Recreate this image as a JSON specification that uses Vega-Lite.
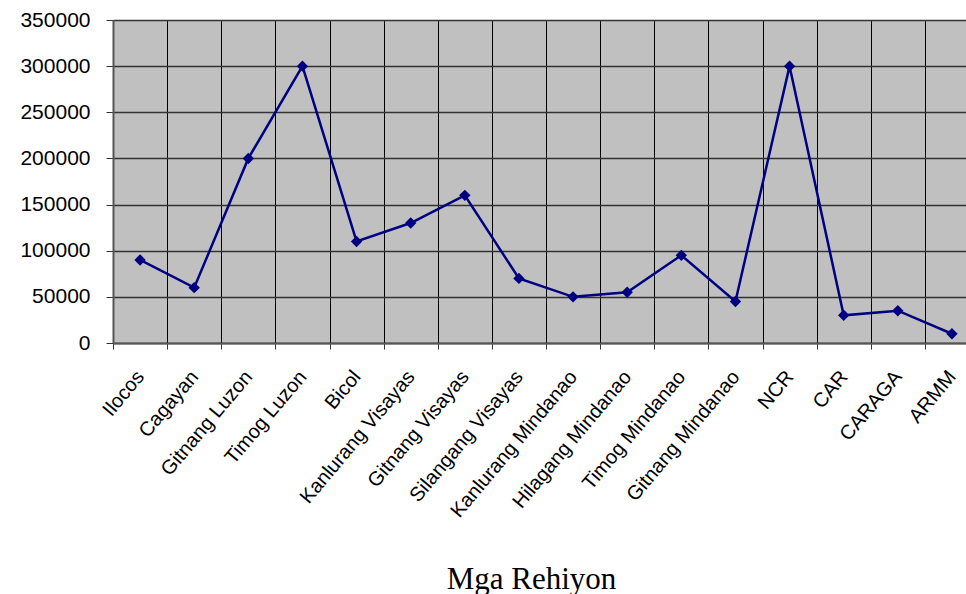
{
  "$schema": "https://vega.github.io/schema/vega-lite/v6.json",
  "width": 853,
  "height": 323,
  "autosize": {"type": "none"},
  "padding": {"left": 113, "top": 20, "right": 0, "bottom": 251},
  "background": "white",
  "config": {
    "view": {"fill": "#C0C0C0", "stroke": null},
    "font": "Liberation Sans"
  },
  "data": {
    "values": [
      {"region": "Ilocos", "value": 90000},
      {"region": "Cagayan", "value": 60000},
      {"region": "Gitnang Luzon", "value": 200000},
      {"region": "Timog Luzon", "value": 300000},
      {"region": "Bicol", "value": 110000},
      {"region": "Kanlurang Visayas", "value": 130000},
      {"region": "Gitnang Visayas", "value": 160000},
      {"region": "Silangang Visayas", "value": 70000},
      {"region": "Kanlurang Mindanao", "value": 50000},
      {"region": "Hilagang Mindanao", "value": 55000},
      {"region": "Timog Mindanao", "value": 95000},
      {"region": "Gitnang Mindanao", "value": 45000},
      {"region": "NCR", "value": 300000},
      {"region": "CAR", "value": 30000},
      {"region": "CARAGA", "value": 35000},
      {"region": "ARMM", "value": 10000}
    ]
  },
  "encoding": {
    "x": {
      "field": "region",
      "type": "nominal",
      "sort": null,
      "bandPosition": 0.5,
      "scale": {"type": "band", "paddingInner": 0, "paddingOuter": 0, "range": [0, 866]},
      "axis": {
        "title": "Mga Rehiyon",
        "titleFont": "Liberation Serif",
        "titleFontSize": 31,
        "titleFontWeight": "normal",
        "titleColor": "black",
        "titleX": 418,
        "titleY": 245,
        "titleBaseline": "alphabetic",
        "titleAnchor": "middle",
        "tickBand": "extent",
        "grid": true,
        "gridColor": "black",
        "gridWidth": 1,
        "domainColor": "#555555",
        "domainWidth": 2,
        "tickColor": "#333333",
        "tickSize": 6,
        "labelAngle": -50,
        "labelAlign": "right",
        "labelBaseline": "middle",
        "labelPadding": 24,
        "labelFontSize": 20,
        "labelLimit": 400,
        "labelColor": "black",
        "labelFont": "Liberation Sans"
      }
    },
    "y": {
      "field": "value",
      "type": "quantitative",
      "scale": {"domain": [0, 350000], "nice": false},
      "axis": {
        "title": null,
        "values": [0, 50000, 100000, 150000, 200000, 250000, 300000, 350000],
        "format": "d",
        "grid": true,
        "gridColor": "#333333",
        "gridWidth": 1.5,
        "domainColor": "#555555",
        "domainWidth": 2,
        "tickColor": "#333333",
        "tickSize": 7,
        "labelPadding": 16,
        "labelFontSize": 21,
        "labelColor": "black",
        "labelFont": "Liberation Sans"
      }
    }
  },
  "layer": [
    {"mark": {"type": "line", "color": "#000080", "strokeWidth": 2.5}},
    {"mark": {"type": "point", "shape": "diamond", "filled": true, "color": "#000080", "opacity": 1, "size": 130}}
  ]
}
